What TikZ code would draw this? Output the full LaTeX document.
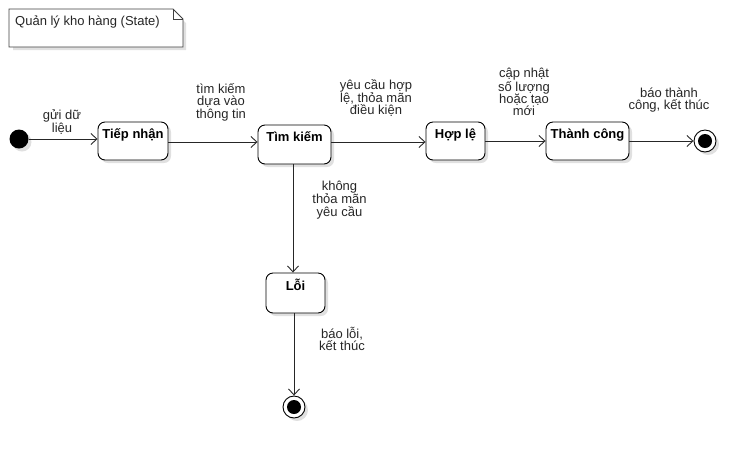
\documentclass[tikz,border=0pt]{standalone}
\usepackage{fontspec}
\setmainfont{Liberation Sans}
\usetikzlibrary{arrows.meta,shadows,calc}
\begin{document}
\begin{tikzpicture}[x=1pt,y=-1pt,
  shd/.style={drop shadow={shadow xshift=3pt,shadow yshift=-3pt,fill=black,opacity=0.12}},
  state/.style={draw=black,line width=0.9pt,rounded corners=7pt,fill=white,shd,inner sep=0pt},
  lbl/.style={font=\fontsize{13}{12.4}\selectfont,align=center,inner sep=0pt,text=black!85},
  sname/.style={font=\fontsize{13}{15}\selectfont\bfseries,inner sep=0pt,anchor=base,yshift=-17pt},
  conn/.style={draw=black!85,line width=0.9pt,-{Straight Barb[length=6pt,width=11pt,line width=0.9pt]}}
]
\useasboundingbox (0,0) rectangle (755,459);
% note
\fill[black,opacity=0.12] (13,13) -- (176,13) -- (186,23) -- (186,50) -- (13,50) -- cycle;
\draw[fill=white,line width=0.9pt,draw=black!75] (9,9) -- (173,9) -- (183,19) -- (183,47) -- (9,47) -- cycle;
\draw[line width=0.9pt,draw=black!75] (173,9) -- (173,19) -- (183,19);
\node[lbl,anchor=west] (note) at (15,22) {Quản lý kho hàng (State)};
% states
\node[circle,fill=black,minimum size=19pt,inner sep=0pt,shd] (init) at (19,139) {};
\node[state,minimum width=70pt,minimum height=38pt,label={[sname]north:Tiếp nhận}] (tn) at (133,141) {};
\node[state,minimum width=73pt,minimum height=39pt,label={[sname]north:Tìm kiếm}] (tk) at (294.5,144.5) {};
\node[state,minimum width=59pt,minimum height=38pt,label={[sname]north:Hợp lệ}] (hl) at (455.5,141) {};
\node[state,minimum width=83pt,minimum height=38pt,label={[sname]north:Thành công}] (tc) at (587.5,141) {};
\node[state,minimum width=59pt,minimum height=40pt,label={[sname,yshift=-0.5pt]north:Lỗi}] (loi) at (295.5,293) {};
\node[circle,draw=black,line width=0.9pt,fill=white,minimum size=22pt,inner sep=0pt,shd] (f1) at (705,141) {};
\fill[black] (f1.center) circle (7pt);
\node[circle,draw=black,line width=0.9pt,fill=white,minimum size=22pt,inner sep=0pt,shd] (f2) at (294,407) {};
\fill[black] (f2.center) circle (7pt);
% connectors
\draw[conn] (init) -- (tn.west |- init);
\draw[conn] (tn.east |- 0,142) -- (tk.west |- 0,142);
\draw[conn] (tk.east |- 0,142) -- (hl.west |- 0,142);
\draw[conn] (hl.east) -- (tc.west);
\draw[conn] (tc.east) -- (f1.west);
\draw[conn] (tk.south -| 293,0) -- (loi.north -| 293,0);
\draw[conn] (loi.south -| f2) -- (f2.north);
% labels
\node[lbl] (l1) at (62,122) {gửi dữ\\liệu};
\node[lbl] (l2) at (221,102) {tìm kiếm\\dựa vào\\thông tin};
\node[lbl] (l3) at (376,98) {yêu cầu hợp\\lệ, thỏa mãn\\điều kiện};
\node[lbl] (l4) at (524,92) {cập nhật\\số lượng\\hoặc tạo\\mới};
\node[lbl] (l5) at (669,100) {báo thành\\công, kết thúc};
\node[lbl] (l6) at (339.5,200) {không\\thỏa mãn\\yêu cầu};
\node[lbl] (l7) at (342,339) {báo lỗi,\\kết thúc};
\end{tikzpicture}
\end{document}
